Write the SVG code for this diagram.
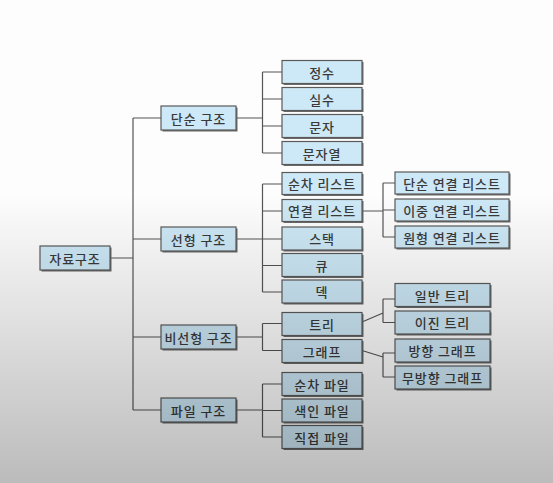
<svg xmlns="http://www.w3.org/2000/svg" width="553" height="483" viewBox="0 0 553 483">
  <defs>
    <linearGradient id="shade" x1="0" y1="0" x2="0" y2="483" gradientUnits="userSpaceOnUse">
      <stop offset="0" stop-color="#000" stop-opacity="0"/>
      <stop offset="0.40" stop-color="#000" stop-opacity="0"/>
      <stop offset="1" stop-color="#000" stop-opacity="0.26"/>
    </linearGradient>
  </defs>
  <style>
    .bg { fill: #fdfdfd; }
    .shadow { fill: #6a6a6a; }
    .box { fill: #cde8f6; stroke: #5a5a5a; stroke-width: 1.2; }
    .lbl { font-family: "Noto Sans CJK KR", "Noto Sans", sans-serif; font-size: 13px; font-weight: 500; fill: #3a3a3a; text-anchor: middle; dominant-baseline: central; letter-spacing: 0.9px; }
    .wire { fill: none; stroke: #555; stroke-width: 1.2; }
  </style>

  <rect class="bg" x="0" y="0" width="553" height="483"/>

  <!-- connectors -->
  <g id="connectors">
    <!-- root to level 2 -->
    <path class="wire" d="M110 258 H133 M133 118 V410 M133 118 H161 M133 239 H161 M133 337 H161 M133 410 H161"/>
    <!-- 단순 구조 -->
    <path class="wire" d="M236 118 H262.5 M262.5 72 V153 M262.5 72 H282 M262.5 99 H282 M262.5 126 H282 M262.5 153 H282"/>
    <!-- 선형 구조 -->
    <path class="wire" d="M236 239 H262.5 M262.5 184 V292 M262.5 184 H282 M262.5 211 H282 M262.5 239 H282 M262.5 265.5 H282 M262.5 292 H282"/>
    <!-- 연결 리스트 -->
    <path class="wire" d="M362 211 H383 M383 183 V237 M383 183 H395 M383 210 H395 M383 237 H395"/>
    <!-- 비선형 구조 -->
    <path class="wire" d="M236 337 H262.5 M262.5 323.5 V350.5 M262.5 323.5 H282 M262.5 350.5 H282"/>
    <!-- 트리 -->
    <path class="wire" d="M362 322 L383 313 M383 299 V322.5 M383 299 H395 M383 322.5 H395"/>
    <!-- 그래프 -->
    <path class="wire" d="M362 350.5 L383 357 M383 353 V377 M383 353 H395 M383 377 H395"/>
    <!-- 파일 구조 -->
    <path class="wire" d="M236 410 H262.5 M262.5 384 V437 M262.5 384 H282 M262.5 410.5 H282 M262.5 437 H282"/>
  </g>

  <!-- root -->
  <g id="n-root">
    <rect class="shadow" x="41.5" y="247.5" width="70" height="24"/>
    <rect class="box" x="40" y="246" width="70" height="24"/>
    <text class="lbl" x="75" y="258">자료구조</text>
  </g>

  <!-- level 2 -->
  <g id="n-simple">
    <rect class="shadow" x="162.5" y="107.5" width="75" height="24"/>
    <rect class="box" x="161" y="106" width="75" height="24"/>
    <text class="lbl" x="198.5" y="118">단순 구조</text>
  </g>
  <g id="n-linear">
    <rect class="shadow" x="162.5" y="228.5" width="75" height="24"/>
    <rect class="box" x="161" y="227" width="75" height="24"/>
    <text class="lbl" x="198.5" y="239">선형 구조</text>
  </g>
  <g id="n-nonlinear">
    <rect class="shadow" x="162.5" y="326.5" width="75" height="24"/>
    <rect class="box" x="161" y="325" width="75" height="24"/>
    <text class="lbl" x="198.5" y="337">비선형 구조</text>
  </g>
  <g id="n-file">
    <rect class="shadow" x="162.5" y="399.5" width="75" height="24"/>
    <rect class="box" x="161" y="398" width="75" height="24"/>
    <text class="lbl" x="198.5" y="410">파일 구조</text>
  </g>

  <!-- 단순 구조 children -->
  <g id="n-int">
    <rect class="shadow" x="283.5" y="62" width="80" height="23"/>
    <rect class="box" x="282" y="60.5" width="80" height="23"/>
    <text class="lbl" x="322" y="72">정수</text>
  </g>
  <g id="n-real">
    <rect class="shadow" x="283.5" y="89" width="80" height="23"/>
    <rect class="box" x="282" y="87.5" width="80" height="23"/>
    <text class="lbl" x="322" y="99">실수</text>
  </g>
  <g id="n-char">
    <rect class="shadow" x="283.5" y="116" width="80" height="23"/>
    <rect class="box" x="282" y="114.5" width="80" height="23"/>
    <text class="lbl" x="322" y="126">문자</text>
  </g>
  <g id="n-string">
    <rect class="shadow" x="283.5" y="143" width="80" height="23"/>
    <rect class="box" x="282" y="141.5" width="80" height="23"/>
    <text class="lbl" x="322" y="153">문자열</text>
  </g>

  <!-- 선형 구조 children -->
  <g id="n-seqlist">
    <rect class="shadow" x="283.5" y="174" width="80" height="22"/>
    <rect class="box" x="282" y="172.5" width="80" height="22"/>
    <text class="lbl" x="322" y="183.5">순차 리스트</text>
  </g>
  <g id="n-linkedlist">
    <rect class="shadow" x="283.5" y="201" width="80" height="22"/>
    <rect class="box" x="282" y="199.5" width="80" height="22"/>
    <text class="lbl" x="322" y="210.5">연결 리스트</text>
  </g>
  <g id="n-stack">
    <rect class="shadow" x="283.5" y="228.5" width="80" height="23"/>
    <rect class="box" x="282" y="227" width="80" height="23"/>
    <text class="lbl" x="322" y="238.5">스택</text>
  </g>
  <g id="n-queue">
    <rect class="shadow" x="283.5" y="255" width="80" height="23"/>
    <rect class="box" x="282" y="253.5" width="80" height="23"/>
    <text class="lbl" x="322" y="265">큐</text>
  </g>
  <g id="n-deque">
    <rect class="shadow" x="283.5" y="281.5" width="80" height="23"/>
    <rect class="box" x="282" y="280" width="80" height="23"/>
    <text class="lbl" x="322" y="291.5">덱</text>
  </g>

  <!-- 연결 리스트 children -->
  <g id="n-singly">
    <rect class="shadow" x="396.5" y="173.5" width="114" height="22"/>
    <rect class="box" x="395" y="172" width="114" height="22"/>
    <text class="lbl" x="452" y="183">단순 연결 리스트</text>
  </g>
  <g id="n-doubly">
    <rect class="shadow" x="396.5" y="200.5" width="114" height="22"/>
    <rect class="box" x="395" y="199" width="114" height="22"/>
    <text class="lbl" x="452" y="210">이중 연결 리스트</text>
  </g>
  <g id="n-circular">
    <rect class="shadow" x="396.5" y="227.5" width="114" height="22"/>
    <rect class="box" x="395" y="226" width="114" height="22"/>
    <text class="lbl" x="452" y="237">원형 연결 리스트</text>
  </g>

  <!-- 비선형 구조 children -->
  <g id="n-tree">
    <rect class="shadow" x="283.5" y="314" width="80" height="23"/>
    <rect class="box" x="282" y="312.5" width="80" height="23"/>
    <text class="lbl" x="322" y="324">트리</text>
  </g>
  <g id="n-graph">
    <rect class="shadow" x="283.5" y="341" width="80" height="23"/>
    <rect class="box" x="282" y="339.5" width="80" height="23"/>
    <text class="lbl" x="322" y="351">그래프</text>
  </g>

  <!-- 트리 children -->
  <g id="n-gentree">
    <rect class="shadow" x="396.5" y="285" width="95" height="23"/>
    <rect class="box" x="395" y="283.5" width="95" height="23"/>
    <text class="lbl" x="442.5" y="295">일반 트리</text>
  </g>
  <g id="n-bintree">
    <rect class="shadow" x="396.5" y="312.5" width="95" height="23"/>
    <rect class="box" x="395" y="311" width="95" height="23"/>
    <text class="lbl" x="442.5" y="322.5">이진 트리</text>
  </g>

  <!-- 그래프 children -->
  <g id="n-digraph">
    <rect class="shadow" x="396.5" y="340.5" width="95" height="23"/>
    <rect class="box" x="395" y="339" width="95" height="23"/>
    <text class="lbl" x="442.5" y="350.5">방향 그래프</text>
  </g>
  <g id="n-undigraph">
    <rect class="shadow" x="396.5" y="367.5" width="95" height="23"/>
    <rect class="box" x="395" y="366" width="95" height="23"/>
    <text class="lbl" x="442.5" y="377.5">무방향 그래프</text>
  </g>

  <!-- 파일 구조 children -->
  <g id="n-seqfile">
    <rect class="shadow" x="283.5" y="374" width="80" height="23"/>
    <rect class="box" x="282" y="372.5" width="80" height="23"/>
    <text class="lbl" x="322" y="384">순차 파일</text>
  </g>
  <g id="n-idxfile">
    <rect class="shadow" x="283.5" y="400.5" width="80" height="23"/>
    <rect class="box" x="282" y="399" width="80" height="23"/>
    <text class="lbl" x="322" y="410.5">색인 파일</text>
  </g>
  <g id="n-directfile">
    <rect class="shadow" x="283.5" y="427" width="80" height="23"/>
    <rect class="box" x="282" y="425.5" width="80" height="23"/>
    <text class="lbl" x="322" y="437">직접 파일</text>
  </g>

  <!-- lower-page shading -->
  <rect x="0" y="0" width="553" height="483" fill="url(#shade)" pointer-events="none"/>
</svg>
